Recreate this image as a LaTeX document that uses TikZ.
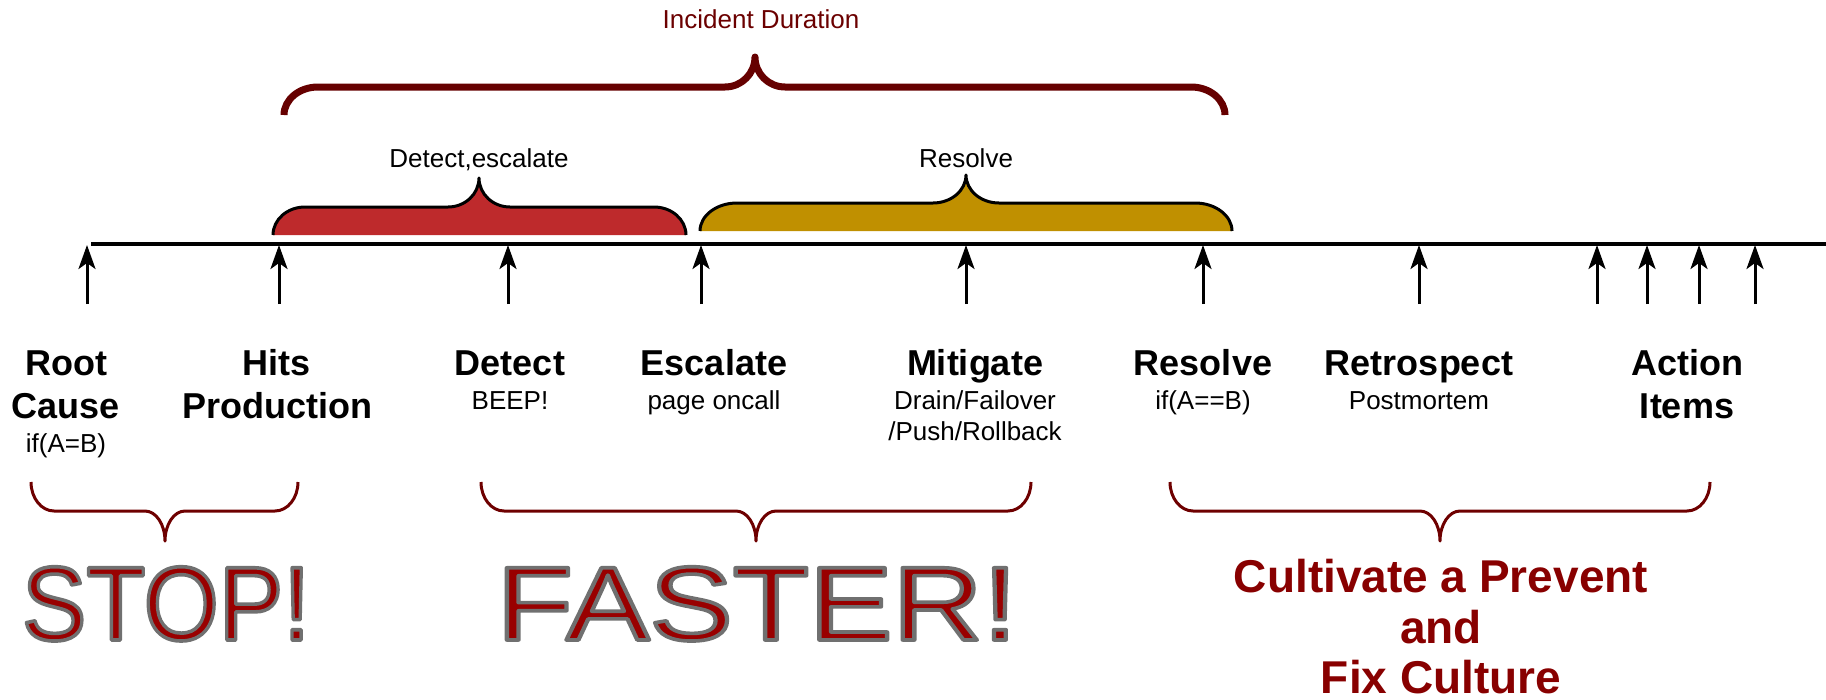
\documentclass[tikz,border=0pt]{standalone}
\usepackage{fontspec}
\setmainfont{Liberation Sans}
\usetikzlibrary{arrows.meta}
\definecolor{maroonA}{HTML}{660000}
\definecolor{braceRed}{HTML}{6E0000}
\definecolor{fillRed}{HTML}{BE2A2C}
\definecolor{fillGold}{HTML}{C09000}
\definecolor{titleRed}{HTML}{6B0000}
\definecolor{bigRed}{HTML}{990000}
\definecolor{cultRed}{HTML}{880000}
% outlined text: fill in current colour, grey stroke
\newcommand{\strokedtext}[1]{\special{pdf:literal direct 2 Tr 3.6 w 0.44 G 1 j}#1\special{pdf:literal direct 0 Tr}}
% #1 x1, #2 x2, #3 xc, #4 yend, #5 yh, #6 ytip, #7 corner, #8 tip half width
\newcommand{\bracepath}[8]{%
 (#1,#4) .. controls (#1,{#4+0.552*(#5-#4)}) and ({#1+0.448*#7},#5) .. ({#1+#7},#5)
 -- ({#3-#8},#5) .. controls ({#3-0.448*#8},#5) and (#3,{#6+0.552*(#5-#6)}) .. (#3,#6)
 .. controls (#3,{#6+0.552*(#5-#6)}) and ({#3+0.448*#8},#5) .. ({#3+#8},#5)
 -- ({#2-#7},#5) .. controls ({#2-0.448*#7},#5) and (#2,{#4+0.552*(#5-#4)}) .. (#2,#4)}
\begin{document}
\begin{tikzpicture}[x=1pt,y=-1pt,
  lbl/.style={anchor=base, inner sep=0pt, font=\fontsize{36}{40}\selectfont\bfseries},
  sub/.style={anchor=base, inner sep=0pt, font=\fontsize{26}{30}\selectfont},
  tick/.style={line width=3pt, -{Stealth[length=24pt,width=17pt,inset=6pt]}},
  lowbrace/.style={draw=braceRed, line width=3pt, line join=round},
  big/.style={anchor=base, inner sep=0pt, text=bigRed, font=\fontsize{105}{105}\selectfont},
  cult/.style={anchor=base, inner sep=0pt, text=cultRed, font=\fontsize{46}{50}\selectfont\bfseries}]
\useasboundingbox (0,0) rectangle (1826,699);

% top title brace
\node[sub, text=titleRed] (title) at (761,28) {Incident Duration};
\draw[maroonA, line width=7pt, line join=round] \bracepath{284}{1225}{755}{115}{87}{57}{34}{30};

% filled braces
\fill[fillRed] \bracepath{273}{686}{479}{235}{207}{178}{32}{31} -- cycle;
\draw[black, line width=3pt, line join=round] \bracepath{273}{686}{479}{235}{207}{178}{32}{31};
\node[sub] (detesc) at (479,167) {Detect,escalate};

\fill[fillGold] \bracepath{700}{1232}{966}{231}{203}{175}{37}{33} -- cycle;
\draw[black, line width=3pt, line join=round] \bracepath{700}{1232}{966}{231}{203}{175}{37}{33};
\node[sub] (resl) at (966,167) {Resolve};

% timeline
\coordinate (tl0) at (91,244);
\coordinate (tl1) at (1826,244);
\draw[line width=3.5pt] (tl0) -- (tl1);

% arrows
\foreach \x [count=\i] in {87,279,508,701,966,1203,1419,1597,1647,1699,1755}{
  \coordinate (b\i) at (\x,304);
  \coordinate (t\i) at (\x,245);
  \draw[tick] (b\i) -- (t\i);
}

% labels
\node[lbl] (root1) at (66,375) {Root};
\node[lbl] (root2) at (66,418) {Cause};
\node[sub] (root3) at (66,452) {if(A=B)};

\node[lbl] (hits1) at (277,375) {Hits};
\node[lbl] (hits2) at (277,418) {Production};

\node[lbl] (det1) at (510,375) {Detect};
\node[sub] (det2) at (510,409) {BEEP!};

\node[lbl] (esc1) at (714,375) {Escalate};
\node[sub] (esc2) at (714,409) {page oncall};

\node[lbl] (mit1) at (975,375) {Mitigate};
\node[sub] (mit2) at (975,409) {Drain/Failover};
\node[sub] (mit3) at (975,440) {/Push/Rollback};

\node[lbl] (res1) at (1203,375) {Resolve};
\node[sub] (res2) at (1203,409) {if(A==B)};

\node[lbl] (ret1) at (1419,375) {Retrospect};
\node[sub] (ret2) at (1419,409) {Postmortem};

\node[lbl] (act1) at (1687,375) {Action};
\node[lbl] (act2) at (1687,418) {Items};

% lower braces
\draw[lowbrace] \bracepath{31}{298}{165}{482}{511}{541}{23}{20};
\draw[lowbrace] \bracepath{481}{1031}{756}{482}{511}{541}{23}{20};
\draw[lowbrace] \bracepath{1170}{1710}{1440}{482}{511}{541}{23}{20};

% big texts
\node[big] (stop) at (166,640) {\scalebox{0.92}[1]{\strokedtext{STOP!}}};
\node[big] (faster) at (757,640) {\scalebox{1.19}[1]{\strokedtext{FASTER!}}};

\node[cult] (cult1) at (1441,592) {Cultivate a Prevent};
\node[cult] (cult2) at (1441,643) {and};
\node[cult] (cult3) at (1441,693) {Fix Culture};
\end{tikzpicture}
\end{document}
